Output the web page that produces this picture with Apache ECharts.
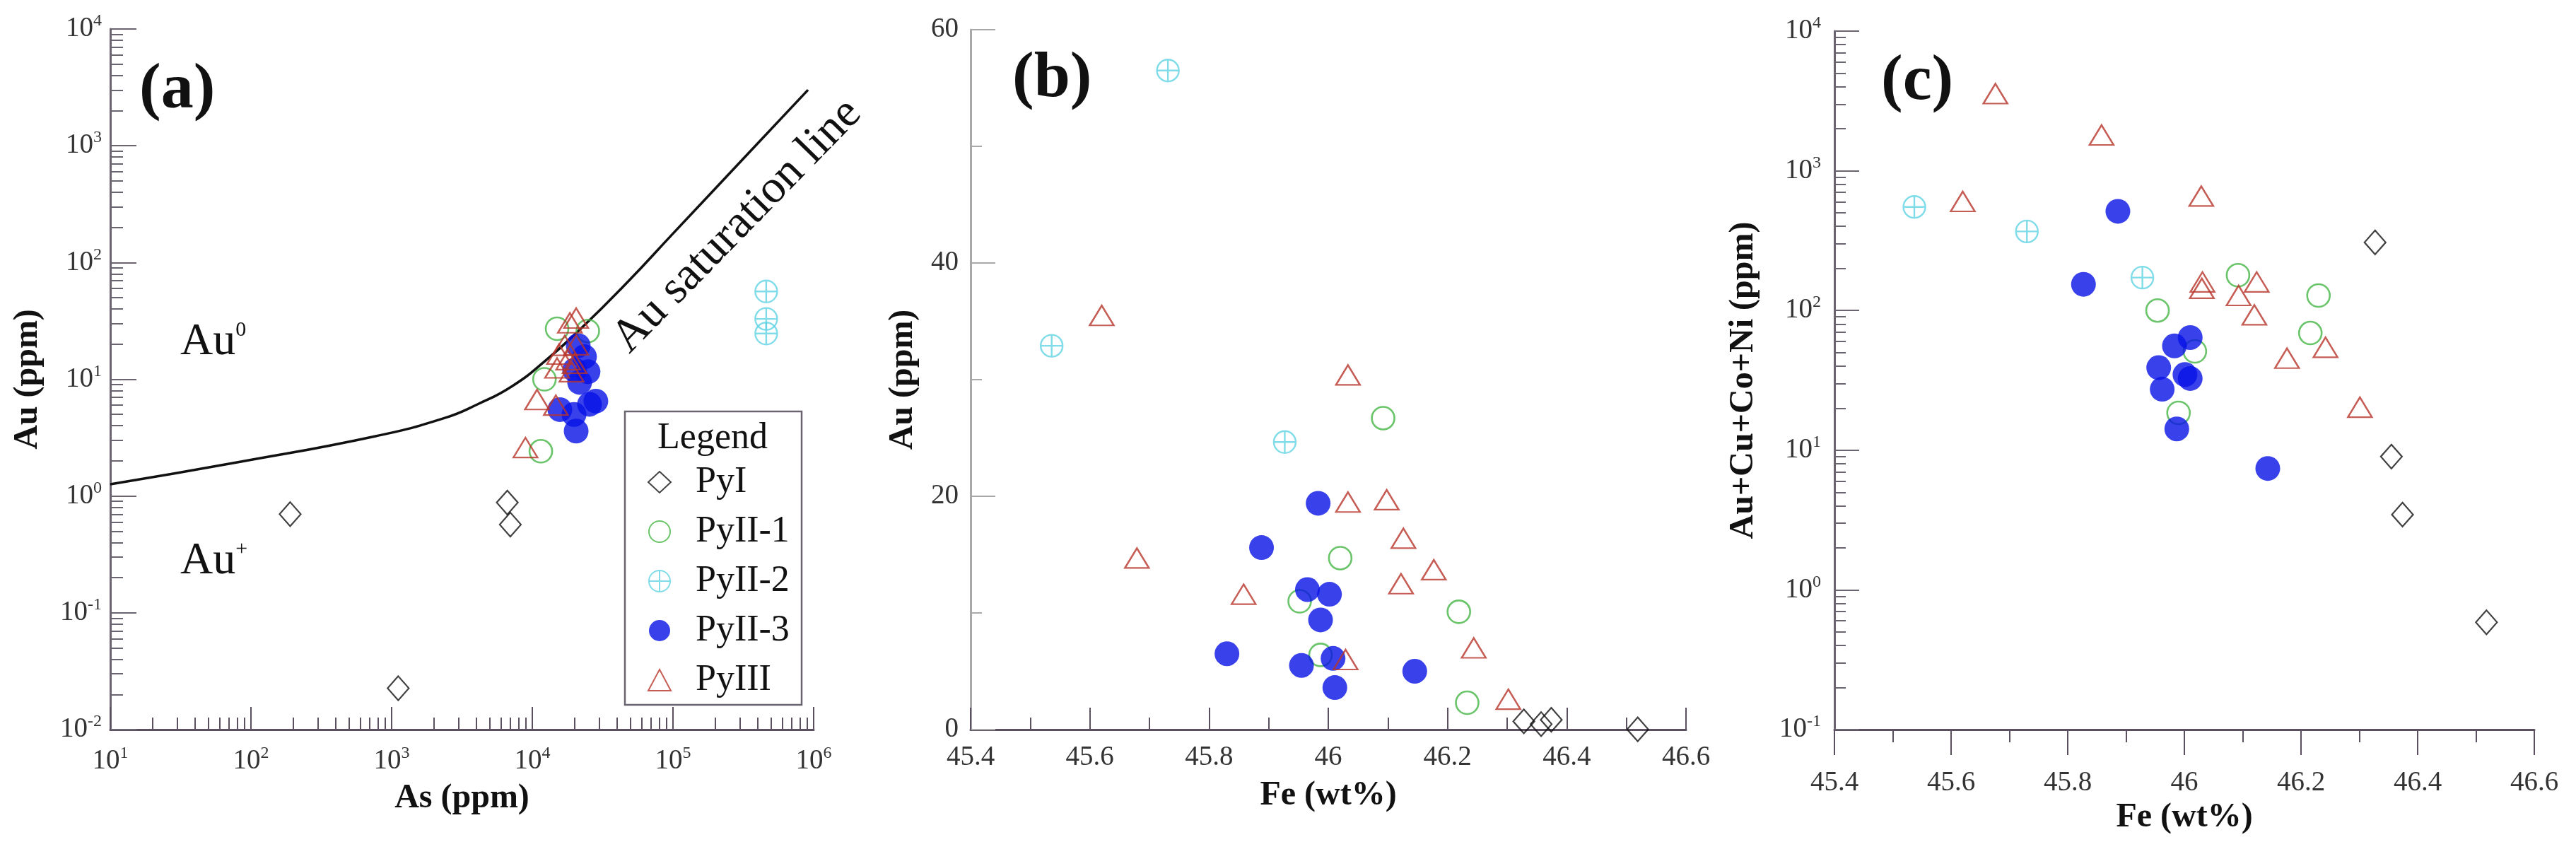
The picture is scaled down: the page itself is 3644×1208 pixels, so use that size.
<!DOCTYPE html>
<html><head><meta charset="utf-8">
<script src="https://cdn.jsdelivr.net/npm/echarts@6/dist/echarts.min.js"></script>
<style>html,body{margin:0;padding:0;background:#fff}#c{width:3644px;height:1208px}</style>
</head><body><div id="c"></div>
<script>
// ---------------- data ----------------
const groups = ['PyI', 'PyII-1', 'PyII-2', 'PyII-3', 'PyIII'];

// panel (a): As (ppm) vs Au (ppm)
const aPyI_As   = [190, 6640, 6980, 1114];
const aPyI_Au   = [0.70, 0.88, 0.57, 0.0226];
const aPyII1_As = [15000, 24800, 12200, 11500];
const aPyII1_Au = [27.1, 25.9, 10.0, 2.42];
const aPyII2_As = [460000, 460000, 460000];
const aPyII2_Au = [56.5, 32.9, 24.65];
const aPyII3_As = [21200, 23500, 20000, 24900, 21700, 28300, 15700, 25500, 19800, 20500];
const aPyII3_Au = [19.4, 15.6, 12.0, 11.6, 9.4, 6.5, 5.5, 6.1, 5.0, 3.6];
const aPyIII_As = [20500, 10800, 8940, 18500, 17000, 20500, 15500, 18000, 20000, 15000, 19000, 14700];
const aPyIII_Au = [33.4, 6.7, 2.6, 30.4, 19.5, 19.7, 16.4, 14.7, 13.7, 12.5, 11.6, 6.0];
// Au saturation line
const satAs = [10, 85, 780, 2370, 4120, 7160, 12450, 21700, 47000, 100000, 316000, 912000];
const satAu = [1.26, 1.97, 3.27, 4.65, 6.14, 8.7, 14.5, 26.5, 67, 177, 774, 3010];

// panel (b): Fe (wt%) vs Au (ppm)
const bPyI_Fe   = [46.328, 46.357, 46.374, 46.519];
const bPyI_Au   = [0.7, 0.47, 0.84, 0.02];
const bPyII1_Fe = [46.092, 46.020, 45.952, 46.219, 45.987, 46.233];
const bPyII1_Au = [26.7, 14.7, 11.0, 10.1, 6.4, 2.3];
const bPyII2_Fe = [45.731, 45.536, 45.927];
const bPyII2_Au = [56.5, 32.9, 24.65];
const bPyII3_Fe = [45.983, 45.888, 45.965, 46.002, 45.987, 45.830, 45.955, 46.008, 46.145, 46.011];
const bPyII3_Au = [19.4, 15.6, 12.0, 11.6, 9.4, 6.5, 5.5, 6.1, 5.0, 3.6];
const bPyIII_Fe = [45.620, 45.679, 46.033, 45.858, 46.033, 46.098, 46.126, 46.122, 46.177, 46.244, 46.302, 46.029];
const bPyIII_Au = [35.5, 14.7, 30.4, 11.6, 19.5, 19.7, 16.4, 12.5, 13.7, 7.0, 2.6, 6.0];

// panel (c): Fe (wt%) vs Au+Cu+Co+Ni (ppm)
const cPyI_Fe   = [46.327, 46.355, 46.374, 46.518];
const cPyI_Sum  = [307, 9.0, 3.46, 0.586];
const cPyII1_Fe = [46.092, 46.230, 45.954, 46.216, 46.018, 45.990];
const cPyII1_Sum= [179, 128, 100, 69, 51, 18.5];
const cPyII2_Fe = [45.537, 45.730, 45.928];
const cPyII2_Sum= [551, 368, 172];
const cPyII3_Fe = [45.886, 45.827, 45.983, 46.010, 45.956, 45.962, 46.001, 46.010, 45.987, 46.143];
const cPyII3_Sum= [513, 154, 55.8, 64, 39, 27.3, 34.8, 32.6, 14.2, 7.4];
const cPyIII_Fe = [45.676, 45.858, 45.620, 46.029, 46.031, 46.030, 46.093, 46.124, 46.120, 46.176, 46.242, 46.301];
const cPyIII_Sum= [3567, 1803, 603, 659, 160, 144, 128, 160, 93, 45.5, 54.5, 20.3];

// axis ranges / ticks
const aXExp = [1, 6];      // 10^1 .. 10^6
const aYExp = [-2, 4];     // 10^-2 .. 10^4
const cYExp = [-1, 4];     // 10^-1 .. 10^4
const feRange = [45.4, 46.6];
const bAuRange = [0, 60];

// ---------------- styling ----------------
const F = 'Liberation Serif';
const axX = '#5a5060', axY = '#6a6470', axYb = '#a9a9a9';
const crossCircle = 'path://M0,-10A10,10,0,1,1,0,10A10,10,0,1,1,0,-10ZM-10,0L10,0M0,-10L0,10';
const look = {
  'PyI':    { symbol: 'diamond', symbolSize: [30, 34], itemStyle: { color: 'rgba(255,255,255,0)', borderColor: '#111', borderWidth: 2.2 } },
  'PyII-1': { symbol: 'circle', symbolSize: 32, itemStyle: { color: 'rgba(255,255,255,0)', borderColor: '#45b545', borderWidth: 2.6 } },
  'PyII-2': { symbol: crossCircle, symbolSize: 31, itemStyle: { color: 'rgba(255,255,255,0)', borderColor: '#5fd3e2', borderWidth: 2.4 } },
  'PyII-3': { symbol: 'circle', symbolSize: 35, itemStyle: { color: '#0712e6', borderColor: '#0712e6', borderWidth: 0 } },
  'PyIII':  { symbol: 'triangle', symbolSize: [34, 28], itemStyle: { color: 'rgba(255,255,255,0)', borderColor: '#b8352a', borderWidth: 2.4 } }
};

function pts(xs, ys) { return xs.map((x, i) => [x, ys[i]]); }
function minorLog(e0, e1) {
  const v = [];
  for (let d = e0; d < e1; d++) for (let k = 2; k <= 9; k++) v.push(d + Math.log10(k));
  return v;
}
const expRich = {
  b: { fontSize: 39, fontFamily: F, color: '#333', lineHeight: 46 },
  s: { fontSize: 24, fontFamily: F, color: '#333', verticalAlign: 'top', lineHeight: 24 }
};
const expFmt = v => '{b|10}{s|' + Math.round(v) + '}';
const nameStyle = { fontFamily: F, fontWeight: 'bold', fontSize: 48, color: '#111' };

function scatter(name, xi, yi, xs, ys) {
  const L = look[name];
  return { name, type: 'scatter', xAxisIndex: xi, yAxisIndex: yi, data: pts(xs, ys),
    symbol: L.symbol, symbolSize: L.symbolSize, itemStyle: L.itemStyle,
    emphasis: { disabled: true }, silent: true, animation: false };
}

function logDisplayAxis(isX, grid, ext, opts) {
  const base = {
    gridIndex: grid, type: 'value', min: ext[0], max: ext[1], interval: 1,
    position: isX ? 'bottom' : 'left',
    splitLine: { show: false },
    axisLine: { onZero: false, lineStyle: { color: isX ? axX : axY, width: 3 } },
    axisTick: { inside: true, length: opts.major, lineStyle: { color: isX ? axX : axY, width: 2 } },
    axisLabel: { margin: opts.margin, formatter: expFmt, rich: expRich },
  };
  if (opts.name) {
    base.name = opts.name; base.nameLocation = 'middle'; base.nameGap = opts.nameGap;
    base.nameTextStyle = nameStyle;
  }
  return base;
}
function logMinorAxis(isX, grid, ext, len, inside) {
  return {
    gridIndex: grid, type: 'value', min: ext[0], max: ext[1],
    position: isX ? 'bottom' : 'left',
    splitLine: { show: false }, axisLabel: { show: false },
    axisLine: { show: false, onZero: false },
    axisTick: { inside: inside, length: len, customValues: minorLog(ext[0], ext[1]),
      lineStyle: { color: isX ? axX : axY, width: 2 } }
  };
}

const xAxis = [
  // panel a
  { gridIndex: 0, type: 'log', min: Math.pow(10, aXExp[0]), max: Math.pow(10, aXExp[1]), show: false },
  logDisplayAxis(true, 0, aXExp, { major: 32, margin: 22, name: 'As (ppm)', nameGap: 74 }),
  logMinorAxis(true, 0, aXExp, 17, true),
  // panel b
  { gridIndex: 1, type: 'value', min: feRange[0], max: feRange[1], interval: 0.2, position: 'bottom',
    splitLine: { show: false },
    axisLine: { onZero: false, lineStyle: { color: axX, width: 3 } },
    axisTick: { inside: true, length: 31, lineStyle: { color: axX, width: 2 } },
    minorTick: { show: true, splitNumber: 2, length: 17, lineStyle: { color: axX, width: 2 } },
    axisLabel: { margin: 20, fontSize: 39, fontFamily: F, color: '#333' },
    name: 'Fe (wt%)', nameLocation: 'middle', nameGap: 70, nameTextStyle: nameStyle },
  // panel c
  { gridIndex: 2, type: 'value', min: feRange[0], max: feRange[1], interval: 0.2, position: 'bottom',
    splitLine: { show: false },
    axisLine: { onZero: false, lineStyle: { color: axX, width: 3 } },
    axisTick: { inside: false, length: 36, lineStyle: { color: axX, width: 2 } },
    minorTick: { show: true, splitNumber: 2, length: 18, lineStyle: { color: axX, width: 2 } },
    axisLabel: { margin: 56, fontSize: 39, fontFamily: F, color: '#333' },
    name: 'Fe (wt%)', nameLocation: 'middle', nameGap: 101, nameTextStyle: nameStyle }
];

const yAxis = [
  // panel a
  { gridIndex: 0, type: 'log', min: Math.pow(10, aYExp[0]), max: Math.pow(10, aYExp[1]), show: false },
  logDisplayAxis(false, 0, aYExp, { major: 37, margin: 12, name: 'Au (ppm)', nameGap: 92 }),
  logMinorAxis(false, 0, aYExp, 18, true),
  // panel b
  { gridIndex: 1, type: 'value', min: bAuRange[0], max: bAuRange[1], interval: 20, position: 'left',
    splitLine: { show: false },
    axisLine: { onZero: false, lineStyle: { color: axYb, width: 3 } },
    axisTick: { inside: true, length: 35, lineStyle: { color: axYb, width: 2 } },
    minorTick: { show: true, splitNumber: 2, length: 16, lineStyle: { color: axYb, width: 2 } },
    axisLabel: { margin: 17, fontSize: 39, fontFamily: F, color: '#333' },
    name: 'Au (ppm)', nameLocation: 'middle', nameGap: 71, nameTextStyle: nameStyle },
  // panel c
  { gridIndex: 2, type: 'log', min: Math.pow(10, cYExp[0]), max: Math.pow(10, cYExp[1]), show: false },
  logDisplayAxis(false, 2, cYExp, { major: 35, margin: 19, name: 'Au+Cu+Co+Ni (ppm)', nameGap: 104 }),
  logMinorAxis(false, 2, cYExp, 16, true)
];

const series = [
  { type: 'line', xAxisIndex: 0, yAxisIndex: 0, data: pts(satAs, satAu), smooth: 0.5,
    showSymbol: false, symbol: 'none', lineStyle: { color: '#111', width: 3.5 }, silent: true, animation: false, z: 1 },
  scatter('PyI', 0, 0, aPyI_As, aPyI_Au),
  scatter('PyII-1', 0, 0, aPyII1_As, aPyII1_Au),
  scatter('PyII-2', 0, 0, aPyII2_As, aPyII2_Au),
  scatter('PyII-3', 0, 0, aPyII3_As, aPyII3_Au),
  scatter('PyIII', 0, 0, aPyIII_As, aPyIII_Au),

  scatter('PyI', 3, 3, bPyI_Fe, bPyI_Au),
  scatter('PyII-1', 3, 3, bPyII1_Fe, bPyII1_Au),
  scatter('PyII-2', 3, 3, bPyII2_Fe, bPyII2_Au),
  scatter('PyII-3', 3, 3, bPyII3_Fe, bPyII3_Au),
  scatter('PyIII', 3, 3, bPyIII_Fe, bPyIII_Au),

  scatter('PyI', 4, 4, cPyI_Fe, cPyI_Sum),
  scatter('PyII-1', 4, 4, cPyII1_Fe, cPyII1_Sum),
  scatter('PyII-2', 4, 4, cPyII2_Fe, cPyII2_Sum),
  scatter('PyII-3', 4, 4, cPyII3_Fe, cPyII3_Sum),
  scatter('PyIII', 4, 4, cPyIII_Fe, cPyIII_Sum)
];

const panelTitle = (t, left, top) => ({ text: t, left, top, padding: 0,
  textStyle: { fontFamily: F, fontWeight: 'bold', fontSize: 92, color: '#111' } });

const option = {
  backgroundColor: '#fff',
  animation: false,
  title: [panelTitle('(a)', 197, 82), panelTitle('(b)', 1432, 66), panelTitle('(c)', 2661, 70)],
  grid: [
    { left: 156, top: 41, width: 995, height: 991 },
    { left: 1373, top: 42, width: 1012, height: 990 },
    { left: 2595, top: 44, width: 990, height: 988 }
  ],
  xAxis, yAxis, series,
  legend: {
    data: groups, orient: 'vertical', left: 916, top: 656, itemWidth: 32, itemHeight: 30, itemGap: 18,
    selectedMode: false, padding: 0, z: 10,
    textStyle: { fontFamily: F, fontSize: 52, color: '#111', padding: [0, 0, 0, 30] }
  },
  graphic: [
    { type: 'rect', shape: { x: 884, y: 582, width: 250, height: 415 }, silent: true, z: -1,
      style: { fill: 'none', stroke: '#6a6470', lineWidth: 2.5 } },
    { type: 'text', x: 1008, y: 620, silent: true,
      style: { text: 'Legend', font: '52px "Liberation Serif"', fill: '#111', align: 'center', verticalAlign: 'middle', textAlign: 'center', textVerticalAlign: 'middle' } },
    { type: 'text', x: 1043, y: 320, rotation: 45.7 * Math.PI / 180, silent: true,
      style: { text: 'Au saturation line', font: '66px "Liberation Serif"', fill: '#111', align: 'center', verticalAlign: 'middle', textAlign: 'center', textVerticalAlign: 'middle' } },
    { type: 'text', x: 255, y: 452, silent: true,
      style: { text: '{m|Au}{s|0}', fill: '#111', verticalAlign: 'top', textVerticalAlign: 'top',
        rich: { m: { fontSize: 64, fontFamily: F, lineHeight: 64 }, s: { fontSize: 30, fontFamily: F, verticalAlign: 'top', lineHeight: 30 } } } },
    { type: 'text', x: 255, y: 762, silent: true,
      style: { text: '{m|Au}{s|+}', fill: '#111', verticalAlign: 'top', textVerticalAlign: 'top',
        rich: { m: { fontSize: 64, fontFamily: F, lineHeight: 64 }, s: { fontSize: 30, fontFamily: F, verticalAlign: 'top', lineHeight: 30 } } } }
  ]
};

const chart = echarts.init(document.getElementById('c'), null, { renderer: 'canvas' });
chart.setOption(option);
</script>
</body></html>
